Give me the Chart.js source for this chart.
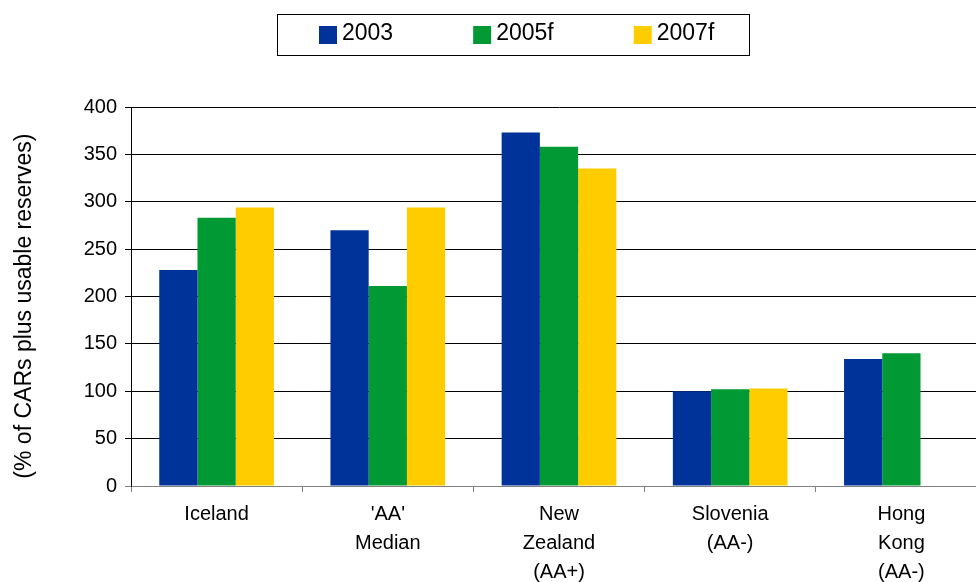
<!DOCTYPE html>
<html>
<head>
<meta charset="utf-8">
<script src="https://cdn.jsdelivr.net/npm/chart.js@4.4.1/dist/chart.umd.min.js"></script>
<style>
  html, body { margin: 0; padding: 0; background: #fff; overflow: hidden; }
  #wrap { width: 1000px; height: 582px; }
</style>
</head>
<body>
<div id="wrap"><canvas id="chart" width="1000" height="582"></canvas></div>
<script>
// data
const categories = ["Iceland", ["'AA'", "Median"], ["New", "Zealand", "(AA+)"], ["Slovenia", "(AA-)"], ["Hong", "Kong", "(AA-)"]];
const seriesNames = ["2003", "2005f", "2007f"];
const values2003 = [228, 270, 373, 100, 134];
const values2005f = [283, 211, 358, 102, 140];
const values2007f = [294, 294, 335, 103, null];
const yMin = 0, yMax = 400, yStep = 50;

const FONT = 'Arial, "Liberation Sans", sans-serif';
const colors = ['#003399', '#009933', '#FFCC00'];

// boxed legend like the original (chart.js legend can't draw a frame around itself)
const boxLegend = {
    id: 'boxLegend',
    afterDraw(chart) {
        const ctx = chart.ctx;
        ctx.save();
        ctx.font = '23px ' + FONT;
        ctx.textBaseline = 'alphabetic';
        const sq = 18, gap = 5, between = 80;
        let x = 319;
        chart.data.datasets.forEach(function (ds) {
            ctx.fillStyle = ds.backgroundColor;
            ctx.fillRect(x, 26, sq, sq);
            ctx.fillStyle = '#000';
            ctx.fillText(ds.label, x + sq + gap, 40);
            x += sq + gap + ctx.measureText(ds.label).width + between;
        });
        ctx.strokeStyle = '#000';
        ctx.lineWidth = 1;
        ctx.strokeRect(277.5, 14.5, 472, 41);
        ctx.restore();
    }
};

const chart = new Chart(document.getElementById('chart').getContext('2d'), {
    type: 'bar',
    data: {
        labels: categories,
        datasets: [
            { label: seriesNames[0], data: values2003, backgroundColor: colors[0] },
            { label: seriesNames[1], data: values2005f, backgroundColor: colors[1] },
            { label: seriesNames[2], data: values2007f, backgroundColor: colors[2] }
        ]
    },
    options: {
        responsive: false,
        animation: false,
        categoryPercentage: 0.67,
        barPercentage: 1,
        layout: { padding: { top: 107, right: 13, left: 0, bottom: 0 } },
        plugins: {
            legend: { display: false },
            tooltip: { enabled: false }
        },
        scales: {
            x: {
                grid: { display: true, drawOnChartArea: false, drawTicks: true, tickLength: 6, color: '#808080' },
                border: { color: '#808080' },
                ticks: { color: '#000', font: { family: FONT, size: 20 , lineHeight: 1.45 }, padding: 8, maxRotation: 0, autoSkip: false },
                afterFit(scale) { scale.height = 96; }
            },
            y: {
                min: yMin,
                max: yMax,
                grid: {
                    color: function (c) { return c.tick && c.tick.value === 0 ? '#808080' : '#000'; },
                    tickLength: 6
                },
                border: { color: '#000' },
                ticks: { stepSize: yStep, color: '#000', font: { family: FONT, size: 20 }, padding: 8 },
                title: {
                    display: true,
                    text: '(% of CARs plus usable reserves)   ',
                    color: '#000',
                    font: { family: FONT, size: 23 },
                    padding: { top: 11, bottom: 0 }
                },
                afterFit(scale) { scale.width = 131; }
            }
        }
    },
    plugins: [boxLegend]
});
</script>
</body>
</html>
